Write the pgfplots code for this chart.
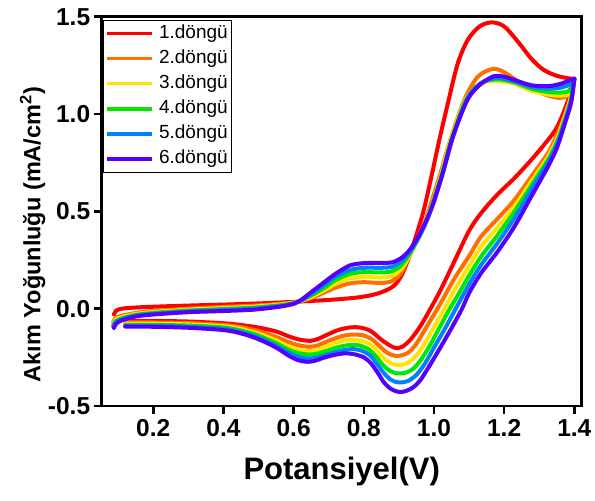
\documentclass[border=0pt]{standalone}
\usepackage{pgfplots}
\pgfplotsset{compat=1.18}
\usepackage{fontspec}
\setmainfont{Liberation Sans}
\definecolor{c1}{RGB}{255,0,0}
\definecolor{c2}{RGB}{255,110,0}
\definecolor{c3}{RGB}{255,228,0}
\definecolor{c4}{RGB}{0,232,0}
\definecolor{c5}{RGB}{0,130,255}
\definecolor{c6}{RGB}{85,0,255}
\begin{document}
\begin{tikzpicture}
\begin{axis}[name=ax, scale only axis, width=480pt, height=389.3pt,
  xmin=0.053, xmax=1.421, ymin=-0.5, ymax=1.5,
  xtick={0.2,0.4,0.6,0.8,1.0,1.2,1.4}, ytick={-0.5,0,0.5,1.0,1.5},
  minor tick num=0,
  tick pos=left, tick align=outside, major tick length=8pt,
  axis line style={line width=2.8pt, line cap=rect},
  every tick/.style={black, line width=2.5pt},
  /pgf/number format/assume math mode=true,
  xticklabel style={yshift=-2pt, /pgf/number format/.cd, fixed, fixed zerofill, precision=1},
  yticklabel style={/pgf/number format/.cd, fixed, fixed zerofill, precision=1},
  tick label style={font=\fontsize{24.5}{28}\selectfont\bfseries},
  xlabel={Potansiyel(V)},
  xlabel style={font=\fontsize{31}{36}\selectfont\bfseries, at={(axis description cs:0.5,-0.168)}, anchor=center},
  ylabel={Akım Yoğunluğu (mA/cm\textsuperscript{2})},
  ylabel style={font=\fontsize{23.5}{28}\selectfont\bfseries, at={(axis description cs:-0.144,0.44)}, anchor=center},
  legend cell align=left,
  legend style={at={(axis description cs:0.003,0.992)}, anchor=north west, draw=black, line width=0.8pt,
    font=\fontsize{19}{22}\selectfont, inner sep=2pt, column sep=3pt, row sep=2.6pt,
    nodes={inner sep=2pt, text height=14pt, text depth=4.5pt}},
  legend image code/.code={\draw[#1, line width=3.5pt, line cap=butt] (0pt,0pt) -- (45pt,0pt);},
  every axis plot/.append style={line width=4pt, smooth, tension=0.5, line cap=round, line join=round},
]
% cycle 1
\addplot[c1] coordinates {
(0.088,-0.030) (0.094,-0.010) (0.11,0.000) (0.15,0.006) (0.2,0.010) (0.3,0.016) (0.4,0.021) (0.5,0.027) (0.6,0.035) (0.7,0.045) (0.78,0.057) (0.83,0.073) (0.865,0.095) (0.89,0.125) (0.91,0.18) (0.93,0.27) (0.95,0.38) (0.97,0.50) (0.991,0.665) (1.015,0.865) (1.039,1.05) (1.067,1.255) (1.096,1.38) (1.13,1.45) (1.165,1.471) (1.2,1.45) (1.24,1.37) (1.277,1.285) (1.31,1.23) (1.344,1.200) (1.375,1.186) (1.400,1.180)
};
\addlegendentry{1.döngü}
\addplot[c1, forget plot] coordinates {
(1.400,1.180) (1.391,1.12) (1.372,1.02) (1.35,0.93) (1.325,0.867) (1.28,0.77) (1.229,0.67) (1.18,0.585) (1.134,0.49) (1.10,0.40) (1.06,0.25) (1.02,0.10) (0.99,0.0)
(0.963,-0.085) (0.935,-0.155) (0.912,-0.193) (0.893,-0.203) (0.875,-0.19) (0.849,-0.158) (0.82,-0.115) (0.79,-0.097) (0.763,-0.096) (0.73,-0.108) (0.70,-0.13) (0.67,-0.155) (0.649,-0.165) (0.62,-0.160) (0.59,-0.145) (0.55,-0.117) (0.5,-0.097) (0.45,-0.084) (0.4,-0.075) (0.3,-0.066) (0.2,-0.063) (0.12,-0.062)
};
% cycle 2
\addplot[c2] coordinates {
(0.086,-0.068) (0.092,-0.050) (0.11,-0.036) (0.15,-0.022) (0.2,-0.012) (0.3,0.000) (0.4,0.009) (0.5,0.017) (0.6,0.032) (0.65,0.055) (0.69,0.085) (0.72,0.108) (0.76,0.130) (0.8,0.136) (0.85,0.132) (0.88,0.142) (0.905,0.18) (0.93,0.27) (0.955,0.37) (0.975,0.45) (0.995,0.56) (1.02,0.705) (1.047,0.87) (1.087,1.075) (1.125,1.192) (1.168,1.232) (1.2,1.215) (1.229,1.18) (1.277,1.13) (1.325,1.095) (1.36,1.083) (1.385,1.10) (1.400,1.180)
};
\addlegendentry{2.döngü}
\addplot[c2, forget plot] coordinates {
(1.400,1.180) (1.391,1.10) (1.372,0.99) (1.35,0.89) (1.325,0.80) (1.28,0.685) (1.229,0.558) (1.18,0.46) (1.134,0.37) (1.10,0.27) (1.06,0.16) (1.035,0.08) (1.01,0.0)
(0.98,-0.09) (0.95,-0.18) (0.925,-0.228) (0.895,-0.243) (0.87,-0.23) (0.849,-0.2) (0.825,-0.16) (0.8,-0.138) (0.77,-0.133) (0.74,-0.14) (0.70,-0.165) (0.67,-0.188) (0.645,-0.196) (0.62,-0.19) (0.59,-0.175) (0.55,-0.145) (0.5,-0.115) (0.45,-0.095) (0.4,-0.083) (0.3,-0.074) (0.2,-0.071) (0.12,-0.071)
};
% cycle 3
\addplot[c3] coordinates {
(0.086,-0.078) (0.092,-0.058) (0.11,-0.043) (0.15,-0.027) (0.2,-0.017) (0.3,-0.005) (0.4,0.003) (0.5,0.012) (0.6,0.030) (0.65,0.06) (0.69,0.098) (0.72,0.128) (0.76,0.155) (0.8,0.163) (0.85,0.16) (0.88,0.168) (0.905,0.2) (0.93,0.27) (0.955,0.36) (0.977,0.45) (0.997,0.55) (1.022,0.70) (1.048,0.87) (1.09,1.075) (1.134,1.155) (1.178,1.17) (1.229,1.155) (1.277,1.12) (1.325,1.10) (1.36,1.095) (1.385,1.105) (1.400,1.180)
};
\addlegendentry{3.döngü}
\addplot[c3, forget plot] coordinates {
(1.400,1.180) (1.391,1.09) (1.372,0.98) (1.35,0.87) (1.325,0.78) (1.28,0.66) (1.229,0.524) (1.18,0.415) (1.134,0.318) (1.10,0.22) (1.06,0.10) (1.03,0.0)
(1.0,-0.095) (0.97,-0.19) (0.945,-0.25) (0.92,-0.282) (0.897,-0.29) (0.875,-0.278) (0.852,-0.245) (0.83,-0.2) (0.805,-0.172) (0.78,-0.162) (0.755,-0.161) (0.73,-0.17) (0.70,-0.19) (0.67,-0.21) (0.645,-0.218) (0.62,-0.212) (0.59,-0.198) (0.55,-0.163) (0.5,-0.128) (0.45,-0.104) (0.4,-0.09) (0.3,-0.081) (0.2,-0.077) (0.12,-0.077)
};
% cycle 4
\addplot[c4] coordinates {
(0.086,-0.086) (0.092,-0.066) (0.11,-0.05) (0.15,-0.032) (0.2,-0.022) (0.3,-0.010) (0.4,-0.002) (0.5,0.007) (0.6,0.028) (0.65,0.068) (0.69,0.11) (0.72,0.147) (0.76,0.178) (0.8,0.188) (0.85,0.186) (0.88,0.192) (0.905,0.22) (0.93,0.28) (0.955,0.36) (0.978,0.45) (0.998,0.55) (1.024,0.70) (1.05,0.87) (1.092,1.075) (1.134,1.16) (1.18,1.178) (1.229,1.163) (1.277,1.13) (1.325,1.113) (1.36,1.11) (1.385,1.12) (1.400,1.180)
};
\addlegendentry{4.döngü}
\addplot[c4, forget plot] coordinates {
(1.400,1.180) (1.391,1.08) (1.372,0.965) (1.35,0.855) (1.325,0.765) (1.28,0.64) (1.229,0.498) (1.18,0.375) (1.134,0.267) (1.10,0.17) (1.07,0.075) (1.045,0.0)
(1.015,-0.1) (0.985,-0.2) (0.96,-0.27) (0.94,-0.31) (0.92,-0.328) (0.898,-0.333) (0.875,-0.32) (0.855,-0.29) (0.835,-0.245) (0.815,-0.21) (0.79,-0.19) (0.763,-0.186) (0.73,-0.196) (0.70,-0.213) (0.67,-0.23) (0.645,-0.236) (0.62,-0.23) (0.59,-0.214) (0.55,-0.177) (0.5,-0.138) (0.45,-0.112) (0.4,-0.097) (0.3,-0.087) (0.2,-0.083) (0.12,-0.083)
};
% cycle 5
\addplot[c5] coordinates {
(0.086,-0.093) (0.092,-0.072) (0.11,-0.055) (0.15,-0.036) (0.2,-0.026) (0.3,-0.014) (0.4,-0.007) (0.5,0.002) (0.6,0.026) (0.65,0.075) (0.69,0.125) (0.72,0.165) (0.76,0.198) (0.8,0.21) (0.85,0.21) (0.88,0.215) (0.905,0.24) (0.93,0.29) (0.955,0.36) (0.979,0.45) (0.999,0.55) (1.026,0.70) (1.052,0.87) (1.094,1.075) (1.134,1.158) (1.18,1.186) (1.229,1.168) (1.277,1.14) (1.325,1.13) (1.36,1.135) (1.385,1.15) (1.400,1.180)
};
\addlegendentry{5.döngü}
\addplot[c5, forget plot] coordinates {
(1.400,1.180) (1.391,1.07) (1.372,0.955) (1.35,0.84) (1.325,0.75) (1.28,0.62) (1.229,0.464) (1.18,0.335) (1.134,0.224) (1.10,0.125) (1.062,0.0)
(1.032,-0.1) (1.0,-0.2) (0.975,-0.28) (0.95,-0.34) (0.925,-0.372) (0.899,-0.379) (0.877,-0.365) (0.857,-0.33) (0.838,-0.285) (0.818,-0.24) (0.79,-0.213) (0.763,-0.208) (0.73,-0.218) (0.70,-0.233) (0.67,-0.25) (0.645,-0.256) (0.62,-0.25) (0.59,-0.23) (0.55,-0.19) (0.5,-0.148) (0.45,-0.12) (0.4,-0.104) (0.3,-0.093) (0.2,-0.088) (0.12,-0.088)
};
% cycle 6
\addplot[c6] coordinates {
(0.088,-0.099) (0.094,-0.078) (0.11,-0.06) (0.15,-0.04) (0.2,-0.03) (0.3,-0.018) (0.4,-0.012) (0.5,-0.003) (0.6,0.025) (0.65,0.085) (0.69,0.14) (0.72,0.18) (0.76,0.222) (0.8,0.234) (0.85,0.235) (0.88,0.238) (0.905,0.258) (0.93,0.30) (0.955,0.37) (0.98,0.46) (1.0,0.55) (1.027,0.71) (1.055,0.89) (1.096,1.075) (1.134,1.155) (1.172,1.195) (1.2,1.192) (1.229,1.175) (1.277,1.148) (1.325,1.143) (1.36,1.155) (1.385,1.172) (1.400,1.182)
};
\addlegendentry{6.döngü}
\addplot[c6, forget plot] coordinates {
(1.400,1.182) (1.391,1.06) (1.372,0.945) (1.35,0.825) (1.325,0.73) (1.28,0.585) (1.229,0.421) (1.18,0.29) (1.134,0.182) (1.10,0.08) (1.08,0.0)
(1.05,-0.1) (1.018,-0.2) (0.985,-0.3) (0.96,-0.37) (0.94,-0.405) (0.92,-0.423) (0.90,-0.428) (0.878,-0.413) (0.858,-0.38) (0.84,-0.33) (0.82,-0.28) (0.80,-0.25) (0.77,-0.233) (0.743,-0.23) (0.71,-0.24) (0.686,-0.252) (0.66,-0.268) (0.639,-0.273) (0.615,-0.266) (0.59,-0.246) (0.55,-0.2) (0.5,-0.157) (0.45,-0.127) (0.4,-0.11) (0.3,-0.098) (0.2,-0.093) (0.12,-0.092)
};
\end{axis}
\path (ax.south west) ++(-101.7pt,-95pt) coordinate (bl);
\path (ax.north east) ++(13.3pt,16.7pt) coordinate (tr);
\pgfresetboundingbox
\path[use as bounding box] (bl) rectangle (tr);
\end{tikzpicture}
\end{document}
